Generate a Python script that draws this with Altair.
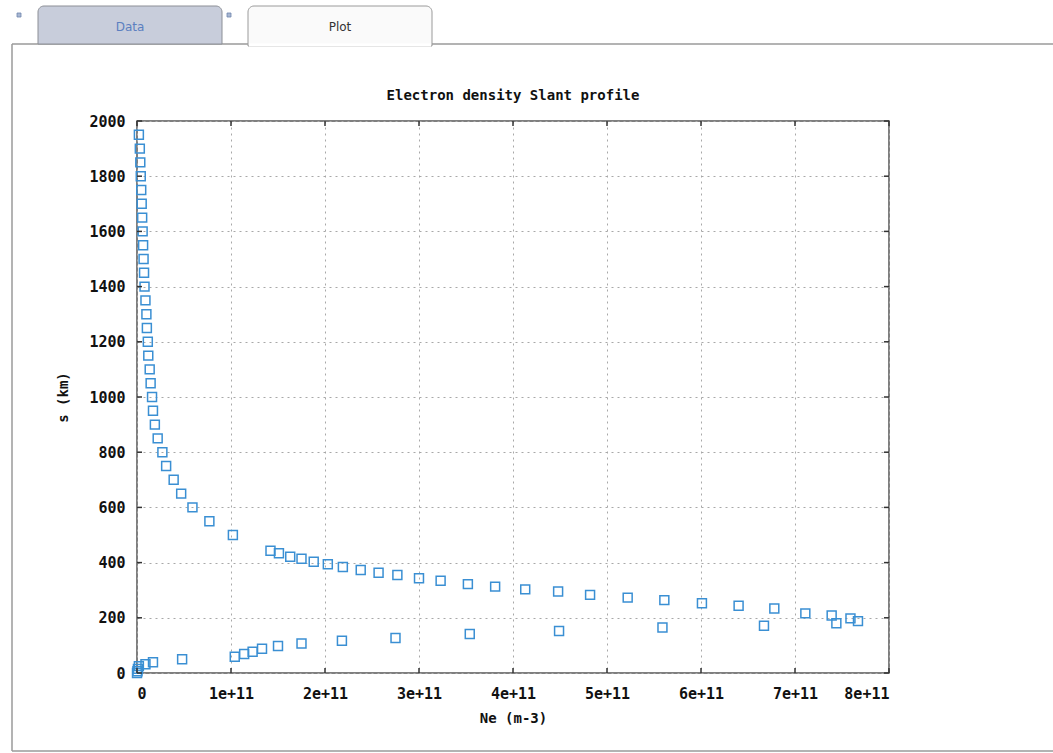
import altair as alt
import pandas as pd

# ---- data ----
ne_e10 = [0.2, 0.3, 0.35, 0.4, 0.45, 0.5, 0.55, 0.6, 0.65, 0.7, 0.75, 0.8, 0.9, 1.0, 1.05,
          1.15, 1.2, 1.35, 1.45, 1.6, 1.7, 1.9, 2.2, 2.7, 3.1, 3.9, 4.7, 5.9, 7.7, 10.2,
          14.2, 15.1, 16.3, 17.5, 18.8, 20.3, 21.9, 23.8, 25.7, 27.7, 30.0, 32.3, 35.2, 38.1,
          41.3, 44.8, 48.2, 52.2, 56.1, 60.1, 64.0, 67.8, 71.1, 73.9, 75.9, 76.7, 74.4,
          66.7, 55.9, 44.9, 35.4, 27.5, 21.8, 17.5, 15.0, 13.3, 12.3, 11.4, 10.4, 4.8,
          1.7, 0.9, 0.2, 0.1, 0.05, 0.0]
s_km = [1950, 1900, 1850, 1800, 1750, 1700, 1650, 1600, 1550, 1500, 1450, 1400, 1350, 1300, 1250,
        1200, 1150, 1100, 1050, 1000, 950, 900, 850, 800, 750, 700, 650, 600, 550, 500,
        443, 434, 421, 414, 403, 394, 384, 373, 363, 355, 343, 334, 322, 313,
        303, 295, 283, 273, 264, 253, 244, 234, 216, 208, 198, 188, 180,
        171, 165, 152, 141, 127, 117, 107, 98, 88, 77, 69, 59, 50,
        39, 32, 25, 15, 6, 0]

x_ticks = [0, 1e11, 2e11, 3e11, 4e11, 5e11, 6e11, 7e11, 8e11]
y_ticks = [0, 200, 400, 600, 800, 1000, 1200, 1400, 1600, 1800, 2000]
title_text = "Electron density Slant profile"

W, H = 752, 552
FONT = "DejaVu Sans Mono"

df = pd.DataFrame({"ne": [v * 1e10 for v in ne_e10], "s": s_km})
xt = pd.DataFrame({"v": x_ticks})
yt = pd.DataFrame({"v": y_ticks})
one = pd.DataFrame({"a": [0]})

xscale = alt.Scale(domain=[0, 8e11], nice=False, zero=False)
yscale = alt.Scale(domain=[0, 2000], nice=False, zero=False)

points = alt.Chart(df).mark_point(
    shape="square", filled=False, size=80, strokeWidth=1.5, color="#3a8fd3", opacity=1
).encode(
    x=alt.X("ne:Q", scale=xscale,
            axis=alt.Axis(values=x_ticks, title="Ne (m-3)",
                          labelExpr="datum.value == 0 ? '0' : format(datum.value, '.0e')",
                          grid=True, gridDash=[2, 4], gridColor="#a8a8a8", gridWidth=1,
                          domain=False, ticks=False, tickSize=0, labelPadding=13,
                          titlePadding=10)),
    y=alt.Y("s:Q", scale=yscale,
            axis=alt.Axis(values=y_ticks, title="s (km)", format="d",
                          grid=True, gridDash=[2, 4], gridColor="#a8a8a8", gridWidth=1,
                          domain=False, ticks=False, tickSize=0, labelPadding=12,
                          titlePadding=18)),
)

# inward tick marks on all four sides
tick_col = "#333333"
xt_bottom = alt.Chart(xt).mark_rule(color=tick_col, strokeWidth=1.5).encode(
    x=alt.X("v:Q", scale=xscale), y=alt.value(H), y2=alt.value(H - 5))
xt_top = alt.Chart(xt).mark_rule(color=tick_col, strokeWidth=1.5).encode(
    x=alt.X("v:Q", scale=xscale), y=alt.value(0), y2=alt.value(5))
yt_left = alt.Chart(yt).mark_rule(color=tick_col, strokeWidth=1.5).encode(
    y=alt.Y("v:Q", scale=yscale), x=alt.value(0), x2=alt.value(5))
yt_right = alt.Chart(yt).mark_rule(color=tick_col, strokeWidth=1.5).encode(
    y=alt.Y("v:Q", scale=yscale), x=alt.value(W), x2=alt.value(W - 5))

# ---- page chrome: tabs and panel border ----
OX, OY = 137, 121  # plot origin in page pixels
def px(x): return x - OX
def py(y): return y - OY

panel_col = "#9a9a9a"
data_tab = alt.Chart(one).mark_rect(
    fill="#c8cddb", stroke="#8c8f96", strokeWidth=1,
    cornerRadiusTopLeft=6, cornerRadiusTopRight=6
).encode(x=alt.value(px(38)), x2=alt.value(px(222)), y=alt.value(py(6)), y2=alt.value(py(44)))
plot_tab = alt.Chart(one).mark_rect(
    fill="#fafafa", stroke="#9a9a9a", strokeWidth=1,
    cornerRadiusTopLeft=6, cornerRadiusTopRight=6
).encode(x=alt.value(px(248)), x2=alt.value(px(432)), y=alt.value(py(6)), y2=alt.value(py(46)))
plot_tab_cover = alt.Chart(one).mark_rule(color="#ffffff", strokeWidth=3).encode(
    x=alt.value(px(249)), x2=alt.value(px(431)), y=alt.value(py(45)))
line_top1 = alt.Chart(one).mark_rule(color=panel_col, strokeWidth=1.5).encode(
    x=alt.value(px(12)), x2=alt.value(px(248)), y=alt.value(py(44)))
line_top2 = alt.Chart(one).mark_rule(color=panel_col, strokeWidth=1.5).encode(
    x=alt.value(px(432)), x2=alt.value(px(1053)), y=alt.value(py(44)))
line_left = alt.Chart(one).mark_rule(color=panel_col, strokeWidth=1.5).encode(
    x=alt.value(px(12)), y=alt.value(py(44)), y2=alt.value(py(751)))
line_bottom = alt.Chart(one).mark_rule(color=panel_col, strokeWidth=1.5).encode(
    x=alt.value(px(12)), x2=alt.value(px(1053)), y=alt.value(py(751)))
icon1 = alt.Chart(one).mark_rect(fill="#a9b8d3", stroke="#6f86ad", strokeWidth=0.8).encode(
    x=alt.value(px(17)), x2=alt.value(px(21)), y=alt.value(py(13)), y2=alt.value(py(17)))
icon2 = alt.Chart(one).mark_rect(fill="#a9b8d3", stroke="#6f86ad", strokeWidth=0.8).encode(
    x=alt.value(px(227)), x2=alt.value(px(231)), y=alt.value(py(13)), y2=alt.value(py(17)))
data_txt = alt.Chart(one).mark_text(text="Data", font="DejaVu Sans", fontSize=12,
                                    color="#5b7fc0", align="center", baseline="middle").encode(
    x=alt.value(px(130)), y=alt.value(py(27)))
plot_txt = alt.Chart(one).mark_text(text="Plot", font="DejaVu Sans", fontSize=12,
                                    color="#333333", align="center", baseline="middle").encode(
    x=alt.value(px(340)), y=alt.value(py(27)))
title_txt = alt.Chart(one).mark_text(text=title_text, font=FONT, fontSize=14, fontWeight="bold",
                                     color="#111111", align="center", baseline="middle").encode(
    x=alt.value(W / 2), y=alt.value(py(96)))

chart = alt.layer(
    line_top1, line_top2, line_left, line_bottom, data_tab, plot_tab, plot_tab_cover,
    icon1, icon2, data_txt, plot_txt, title_txt,
    points, xt_bottom, xt_top, yt_left, yt_right,
).properties(
    width=W, height=H,
    autosize=alt.AutoSizeParams(type="none"),
    padding={"left": OX, "top": OY, "right": 1053 - OX - W, "bottom": 753 - OY - H},
    background="#ffffff",
).configure_view(
    stroke="#555555", strokeWidth=1.5
).configure_axis(
    labelFont=FONT, labelFontSize=15, labelFontWeight="bold", labelColor="#111111",
    titleFont=FONT, titleFontSize=14, titleFontWeight="bold", titleColor="#111111",
)

chart.save("out.html", embed_options={"renderer": "svg", "actions": False})
